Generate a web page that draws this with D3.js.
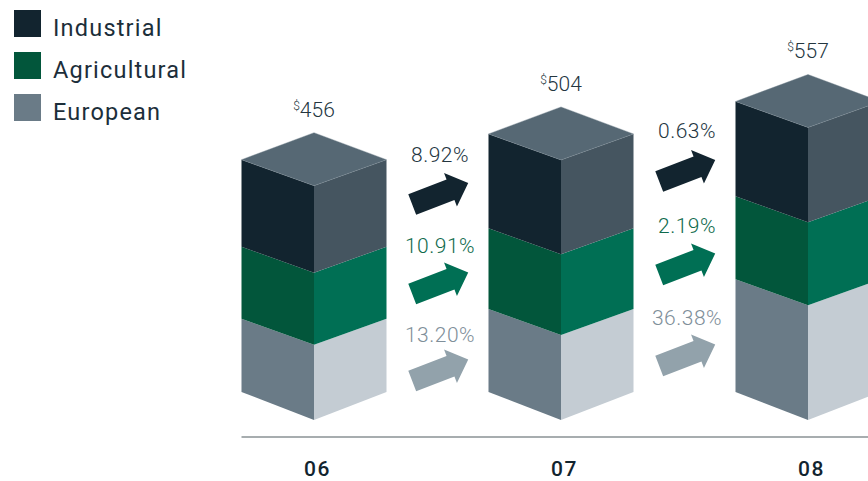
<!DOCTYPE html>
<html>
<head>
<meta charset="utf-8">
<script src="https://cdn.jsdelivr.net/npm/d3@7"></script>
<style>
    body { margin: 0; background: #fff; overflow: hidden; }
    svg { display: block; }
    text { font-family: Roboto, sans-serif; }
</style>
</head>
<body>
<div id="chart"></div>
<script>
// Chart data
const years = ["06", "07", "08"];
const seriesNames = ["European", "Agricultural", "Industrial"];
const european = [146, 165, 223];
const agricultural = [140, 157, 161];
const industrial = [169, 183, 184];
const totals = [456, 504, 557];

// Growth between years, one label per arrow
const industrialGrowth = ["8.92%", "0.63%"];
const agriculturalGrowth = ["10.91%", "2.19%"];
const europeanGrowth = ["13.20%", "36.38%"];

// Colours per series
const frontColors = ["#6a7b87", "#02563b", "#12242f"];
const sideColors = ["#c4ccd3", "#006f54", "#455560"];
const topColor = "#566874";
const arrowColors = ["#92a2ab", "#006f54", "#12242f"];
const growthTextColors = ["#7f8f9a", "#0f6a4c", "#24363f"];

const width = 868;
const height = 481;
const halfBar = 72.5;  // half the width of a column
const skew = 26;       // vertical drop of the side faces
const baseSkew = 28;   // the bottom edge drops a little more

const svg = d3.select("#chart").append("svg")
    .attr("width", width)
    .attr("height", height);

// Scales
const x = d3.scalePoint().domain(years).range([314, 808]);
const y = d3.scaleLinear().domain([0, 600]).range([420, 111]);

const stack = d3.stack().keys(seriesNames);
const rows = years.map((year, i) => ({
    year: year,
    European: european[i],
    Agricultural: agricultural[i],
    Industrial: industrial[i]
}));
const layers = stack(rows);

// Faces of one block, built from the scales
function lowSkew(value) {
    return value === 0 ? baseSkew : skew;
}
function frontFace(cx, d) {
    return [[cx - halfBar, y(d[0]) - lowSkew(d[0])], [cx, y(d[0])], [cx, y(d[1])], [cx - halfBar, y(d[1]) - skew]];
}
function sideFace(cx, d) {
    return [[cx, y(d[0])], [cx + halfBar, y(d[0]) - lowSkew(d[0])], [cx + halfBar, y(d[1]) - skew], [cx, y(d[1])]];
}
function topFace(cx, high) {
    return [[cx - halfBar, high - skew], [cx, high], [cx + halfBar, high - skew], [cx, high - 2 * skew - 1]];
}
const line = d3.line().curve(d3.curveLinearClosed);

// Draw the columns
layers.forEach(function (layer, s) {
    const group = svg.append("g").attr("class", "layer-" + layer.key);
    group.selectAll(".front").data(layer).join("path")
        .attr("class", "front")
        .attr("fill", frontColors[s])
        .attr("d", d => line(frontFace(x(d.data.year), d)));
    group.selectAll(".side").data(layer).join("path")
        .attr("class", "side")
        .attr("fill", sideColors[s])
        .attr("d", d => line(sideFace(x(d.data.year), d)));
});

// Top faces go on the last layer
svg.append("g").selectAll("path").data(layers[2]).join("path")
    .attr("fill", topColor)
    .attr("stroke", "#7c8b95")
    .attr("stroke-width", 0.4)
    .attr("d", d => line(topFace(x(d.data.year), y(d[1]))));

// Total labels over each column
const totalLabels = svg.append("g").selectAll("text").data(layers[2]).join("text")
    .attr("x", d => x(d.data.year))
    .attr("y", d => y(d[1]) - 2 * skew - 17)
    .attr("text-anchor", "middle")
    .attr("fill", "#24363f")
    .style("font-size", "21px")
    .style("font-weight", 300);
totalLabels.append("tspan")
    .attr("dy", -7)
    .style("font-size", "12px")
    .text("$");
totalLabels.append("tspan")
    .attr("dy", 7)
    .text((d, i) => totals[i]);

// Arrows between the columns
const arrowShape = [[-28, -10], [13, -10], [13, -17], [32, 1], [13, 19], [13, 12], [-28, 12]];
const arrowBaseY = [[370, 355], [283, 264], [193.5, 170.5]];
const labelBaseY = [[342, 325], [253, 233], [162, 138]];
const growth = [europeanGrowth, agriculturalGrowth, industrialGrowth];
const gaps = d3.pairs(years);

growth.forEach(function (labels, s) {
    gaps.forEach(function (pair, g) {
        const cx = (x(pair[0]) + x(pair[1])) / 2;
        svg.append("path")
            .attr("d", line(arrowShape))
            .attr("fill", arrowColors[s])
            .attr("transform", `translate(${cx + 0.5},${arrowBaseY[s][g]}) rotate(-21)`);
        svg.append("text")
            .attr("x", cx + 2.5)
            .attr("y", labelBaseY[s][g])
            .attr("text-anchor", "middle")
            .attr("fill", growthTextColors[s])
            .style("font-size", "21px")
            .style("font-weight", 300)
            .style("letter-spacing", "0.5px")
            .text(labels[g]);
    });
});

// Axis with the year labels
const axis = svg.append("g")
    .attr("transform", "translate(3,437)")
    .call(d3.axisBottom(x).tickSize(0).tickPadding(24));
axis.select(".domain").remove();
axis.selectAll("text")
    .attr("fill", "#12242f")
    .style("font-family", "Roboto, sans-serif")
    .style("font-size", "21px")
    .style("font-weight", 500)
    .style("letter-spacing", "1.5px");
svg.append("line")
    .attr("x1", x.range()[0] - halfBar)
    .attr("x2", width)
    .attr("y1", 437)
    .attr("y2", 437)
    .attr("stroke", "#8a9294")
    .attr("stroke-width", 1.5);

// Legend
const legendNames = seriesNames.slice().reverse();
const legendColors = frontColors.slice().reverse();
const legendY = d3.scalePoint().domain(legendNames).range([10, 94]);

const legend = svg.append("g").selectAll("g").data(legendNames).join("g")
    .attr("transform", d => `translate(14,${legendY(d)})`);
legend.append("rect")
    .attr("width", 27)
    .attr("height", 27)
    .attr("fill", (d, i) => legendColors[i]);
legend.append("text")
    .attr("x", 39)
    .attr("y", 26)
    .attr("fill", "#1c2e3a")
    .style("font-size", "23.5px")
    .style("letter-spacing", "1.2px")
    .text(d => d);
</script>
</body>
</html>
